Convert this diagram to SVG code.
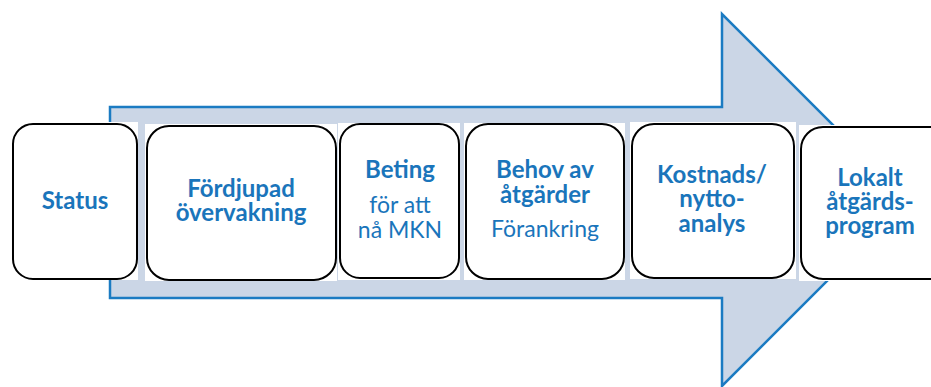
<svg xmlns="http://www.w3.org/2000/svg" width="931" height="387" viewBox="0 0 931 387">
<style>
.bg{fill:#ffffff}
.box{fill:#ffffff;stroke:#000000;stroke-width:2}
.t{font-family:Lato,"Open Sans","Liberation Sans",sans-serif;font-size:23px;fill:#1a75bb;text-anchor:middle}
.b{font-weight:bold;font-size:24px}
</style>
<rect width="931" height="387" fill="#ffffff"/>
<g id="arrow">
<polygon points="110,107 722,107 722,14 908,200 722,386 722,298 110,298" fill="#cbd6e6" stroke="#1b7bc2" stroke-width="2.5" stroke-linejoin="miter"/>
</g>
<g id="connectors"></g>
<g id="node-status">
<rect class="bg" x="0" y="122" width="138" height="158"/>
<rect class="box" x="13" y="124" width="124" height="155" rx="20"/>
<text class="t b" x="75" y="209">Status</text>
</g>
<g id="node-fordjupad">
<rect class="bg" x="145" y="124" width="192" height="157"/>
<rect class="box" x="147" y="126" width="189" height="154" rx="22"/>
<text class="t b" x="241" y="197">Fördjupad</text>
<text class="t b" x="241" y="221">övervakning</text>
</g>
<g id="node-beting">
<rect class="bg" x="338" y="123" width="122" height="157"/>
<rect class="box" x="340" y="124" width="119" height="154" rx="20"/>
<text class="t b" x="400" y="178">Beting</text>
<text class="t" x="400" y="213">för att</text>
<text class="t" x="400" y="238">nå MKN</text>
</g>
<g id="node-behov">
<rect class="bg" x="464" y="123" width="161" height="157"/>
<rect class="box" x="466" y="124" width="158" height="155" rx="22"/>
<text class="t b" x="545" y="178">Behov av</text>
<text class="t b" x="545" y="203">åtgärder</text>
<text class="t" x="545" y="237">Förankring</text>
</g>
<g id="node-kostnads">
<rect class="bg" x="630" y="122" width="166" height="157"/>
<rect class="box" x="632" y="124" width="162" height="154" rx="22"/>
<text class="t b" x="712" y="183">Kostnads/</text>
<text class="t b" x="712" y="207">nytto-</text>
<text class="t b" x="712" y="232">analys</text>
</g>
<g id="node-lokalt">
<rect class="bg" x="799" y="125" width="140" height="156"/>
<rect class="box" x="801" y="127" width="150" height="152" rx="22"/>
<text class="t b" x="870" y="186">Lokalt</text>
<text class="t b" x="870" y="210">åtgärds-</text>
<text class="t b" x="870" y="234">program</text>
</g>
</svg>
